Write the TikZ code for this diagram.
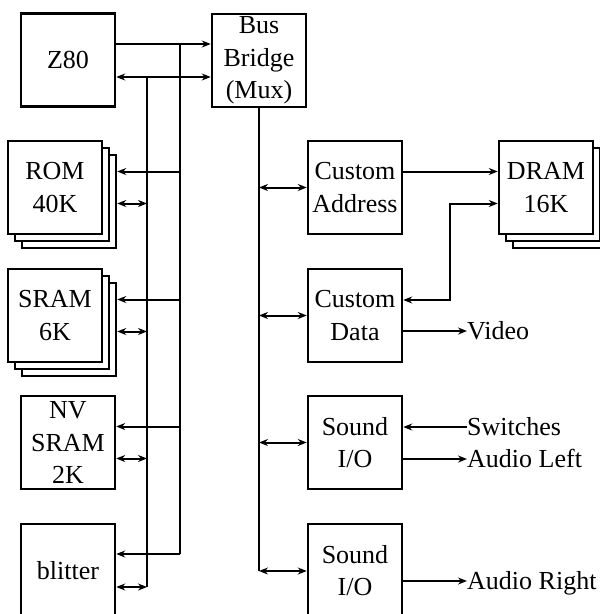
\documentclass[tikz,border=0pt]{standalone}
\usepackage{fontspec}
\setmainfont{Liberation Serif}
\usetikzlibrary{arrows.meta}
\begin{document}
\begin{tikzpicture}[x=1pt,y=-1pt,
  txt/.style={font=\fontsize{26}{32.3}\selectfont},
  blk/.style={txt,draw,line width=2.5pt,fill=white,minimum width=94pt,minimum height=93pt,inner sep=0pt,align=center},
  wire/.style={line width=2pt},
  oneway/.style={wire,-{Stealth[length=9pt,width=7pt,inset=3pt]}},
  twoway/.style={wire,{Stealth[length=9pt,width=7pt,inset=3pt]}-{Stealth[length=9pt,width=7pt,inset=3pt]}},
  lbl/.style={txt,anchor=west,inner sep=0pt,text height=17pt,text depth=0pt}]
\useasboundingbox (0,0) rectangle (600,614);
% left column
\node[blk] (z80) at (68,60) {Z80};
\node[blk] (bridge) at (259,60.5) {Bus\\Bridge\\(Mux)};
\node[blk] (rom3) at (69,201.5) {};
\node[blk] (rom2) at (62,194.5) {};
\node[blk] (rom) at (55,187.5) {ROM\\40K};
\node[blk] (sram3) at (69,329.5) {};
\node[blk] (sram2) at (62,322.5) {};
\node[blk] (sram) at (55,315.5) {SRAM\\6K};
\node[blk] (nv) at (68,442.5) {NV\\SRAM\\2K};
\node[blk] (blit) at (68,570.5) {blitter};
% right column
\node[blk] (ca) at (355,187.5) {Custom\\Address};
\node[blk] (cd) at (355,315.5) {Custom\\Data};
\node[blk] (dram3) at (560,201.5) {};
\node[blk] (dram2) at (553,194.5) {};
\node[blk] (dram) at (546,187.5) {DRAM\\16K};
\node[blk] (s1) at (355,442.5) {Sound\\I/O};
\node[blk] (s2) at (355,570.5) {Sound\\I/O};
% labels
\node[lbl] (vid) at (467,331) {Video};
\node[lbl] (sw) at (467,427) {Switches};
\node[lbl] (al) at (467,459) {Audio Left};
\node[lbl] (ar) at (467,581) {Audio Right};
% bus coordinates
\coordinate (aT) at (180,44);
\coordinate (aB) at (180,554);
\coordinate (bT) at (147,77);
\coordinate (bB) at (147,587);
\coordinate (cB) at (259,571);
\coordinate (dj) at (450,300);
% Z80 to bridge
\draw[oneway] (aT -| z80.east) -- (aT -| bridge.west);
\draw[twoway] (bT -| z80.east) -- (bT -| bridge.west);
% buses
\draw[wire] (aT) -- (aB);
\draw[wire] (bT) -- (bB);
\draw[wire] (bridge.south) -- (cB);
% ROM
\draw[oneway] ([yshift=16pt]rom.east -| aT) -- ([yshift=16pt]rom.east -| rom3.east);
\draw[twoway] ([yshift=-16pt]rom.east -| rom3.east) -- ([yshift=-16pt]rom.east -| bT);
% SRAM
\draw[oneway] ([yshift=16pt]sram.east -| aT) -- ([yshift=16pt]sram.east -| sram3.east);
\draw[twoway] ([yshift=-16pt]sram.east -| sram3.east) -- ([yshift=-16pt]sram.east -| bT);
% NV SRAM
\draw[oneway] ([yshift=16pt]nv.east -| aT) -- ([yshift=16pt]nv.east);
\draw[twoway] ([yshift=-16pt]nv.east) -- ([yshift=-16pt]nv.east -| bT);
% blitter
\draw[oneway] (aB) -- (aB -| blit.east);
\draw[twoway] (bB -| blit.east) -- (bB);
% right side bus taps
\draw[twoway] (ca.west -| cB) -- (ca.west);
\draw[twoway] (cd.west -| cB) -- (cd.west);
\draw[twoway] (s1.west -| cB) -- (s1.west);
\draw[twoway] (cB) -- (cB -| s2.west);
% DRAM links
\draw[oneway] ([yshift=16pt]ca.east) -- ([yshift=16pt]ca.east -| dram.west);
\draw[twoway] ([yshift=-16pt]dram.west) -| (dj) -- (dj -| cd.east);
% outputs
\draw[oneway] (vid.west -| cd.east) -- (vid.west);
\draw[oneway] (sw.west) -- (sw.west -| s1.east);
\draw[oneway] (al.west -| s1.east) -- (al.west);
\draw[oneway] (ar.west -| s2.east) -- (ar.west);
\end{tikzpicture}
\end{document}
